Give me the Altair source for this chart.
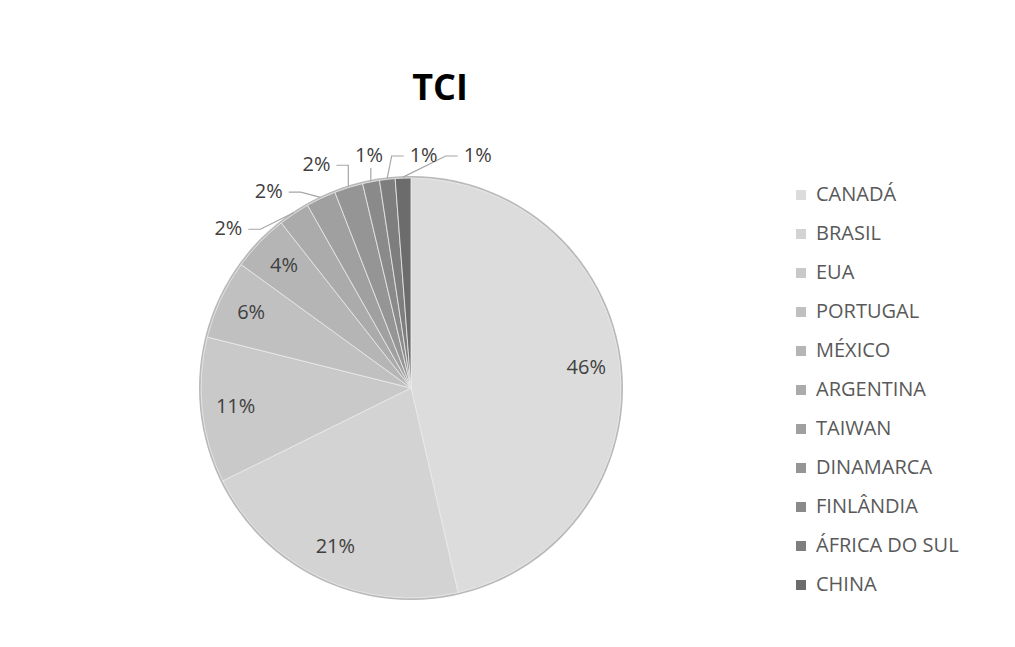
import altair as alt
import pandas as pd

# ---- data ----
countries = ["CANADÁ", "BRASIL", "EUA", "PORTUGAL", "MÉXICO", "ARGENTINA",
             "TAIWAN", "DINAMARCA", "FINLÂNDIA", "ÁFRICA DO SUL", "CHINA"]
shares = [46.4, 21.3, 11.2, 6.1, 4.4, 2.4, 2.3, 2.2, 1.3, 1.2, 1.2]
greys = ["#dcdcdc", "#d3d3d3", "#c9c9c9", "#c0c0c0", "#b5b5b5", "#ababab",
         "#a0a0a0", "#959595", "#8a8a8a", "#7e7e7e", "#6c6c6c"]

# ---- layout ----
W, H = 790, 470
R = 210
CX, CY = W / 2, H / 2
FONT = "Open Sans"

df = pd.DataFrame({"country": countries, "share": shares,
                   "idx": list(range(len(countries)))})

color = alt.Color(
    "country:N",
    scale=alt.Scale(domain=countries, range=greys),
    legend=alt.Legend(title=None, orient="none", legendX=775, legendY=32,
                      symbolType="square", symbolSize=100, symbolStrokeWidth=0,
                      labelFontSize=20, labelFont=FONT, labelColor="#595959",
                      rowPadding=19, labelOffset=5, padding=0),
)

base = alt.Chart(df)

shadow = base.transform_filter("datum.idx == 0").mark_arc(
    radius=R + 2, fill="#b9b9b9"
).encode(theta=alt.value(0), theta2=alt.value(6.2832))

pie = base.mark_arc(radius=R, stroke="#ececec", strokeWidth=0.8).encode(
    theta=alt.Theta("share:Q", stack=True),
    color=color,
    order=alt.Order("idx:Q"),
)

prep = base.transform_joinaggregate(total="sum(share)").transform_window(
    cum="sum(share)", sort=[alt.SortField("idx")], frame=[None, 0]
).transform_calculate(
    mid="2*PI*(datum.cum - datum.share/2)/datum.total",
    label="format(datum.share, '.0f') + '%'",
)

inside = prep.transform_filter("datum.share >= 3").transform_calculate(
    tx=f"{CX} + {0.84 * R}*sin(datum.mid)",
    ty=f"{CY} - {0.84 * R}*cos(datum.mid)",
).mark_text(font=FONT, fontSize=20, color="#404040").encode(
    x=alt.X("tx:Q", scale=None, axis=None),
    y=alt.Y("ty:Q", scale=None, axis=None),
    text="label:N",
)

outer = prep.transform_filter("datum.share < 3").transform_window(
    rk="row_number()", sort=[alt.SortField("idx")]
).transform_calculate(
    la="(311 + (datum.rk - 1)*13)*PI/180",
).transform_calculate(
    lx=f"{CX} + {R + 32}*sin(datum.la)",
    ly=f"max({CY} - {R + 32}*cos(datum.la), {CY - R - 22})",
    ex=f"{CX} + {R + 1}*sin(datum.mid)",
    ey=f"{CY} - {R + 1}*cos(datum.mid)",
).transform_calculate(
    side="datum.lx < datum.ex ? 1 : -1",
    near="abs(datum.ex - datum.lx) < 22",
)

outside_text = outer.mark_text(font=FONT, fontSize=20, color="#404040").encode(
    x=alt.X("lx:Q", scale=None, axis=None),
    y=alt.Y("ly:Q", scale=None, axis=None),
    text="label:N",
)

leaders = outer.transform_calculate(
    p0x="datum.near ? datum.ex : datum.lx + datum.side*20",
    p0y="datum.near ? datum.ly + 12 : datum.ly",
    p1x="datum.near ? datum.ex : (datum.side == 1 ? min(datum.lx + 32, datum.ex) : max(datum.lx - 32, datum.ex))",
).transform_calculate(
    pxs="[datum.p0x, datum.p1x, datum.ex]",
    pys="[datum.p0y, datum.p0y, datum.ey]",
    pk="[0, 1, 2]",
).transform_flatten(["pxs", "pys", "pk"]).mark_line(
    color="#a6a6a6", strokeWidth=1.2
).encode(
    x=alt.X("pxs:Q", scale=None, axis=None),
    y=alt.Y("pys:Q", scale=None, axis=None),
    detail="country:N",
    order="pk:Q",
)

chart = alt.layer(shadow, pie, leaders, inside, outside_text).properties(
    width=W, height=H,
    padding={"left": 8, "top": 145, "right": 200, "bottom": 10},
    autosize=alt.AutoSizeParams(type="none"),
    title=alt.Title("TCI", fontSize=36, font=FONT, fontWeight="bold",
                    color="black", dx=29, offset=38, anchor="middle"),
).configure_view(stroke=None)

chart.save("out.html", embed_options={"renderer": "svg", "actions": False})
